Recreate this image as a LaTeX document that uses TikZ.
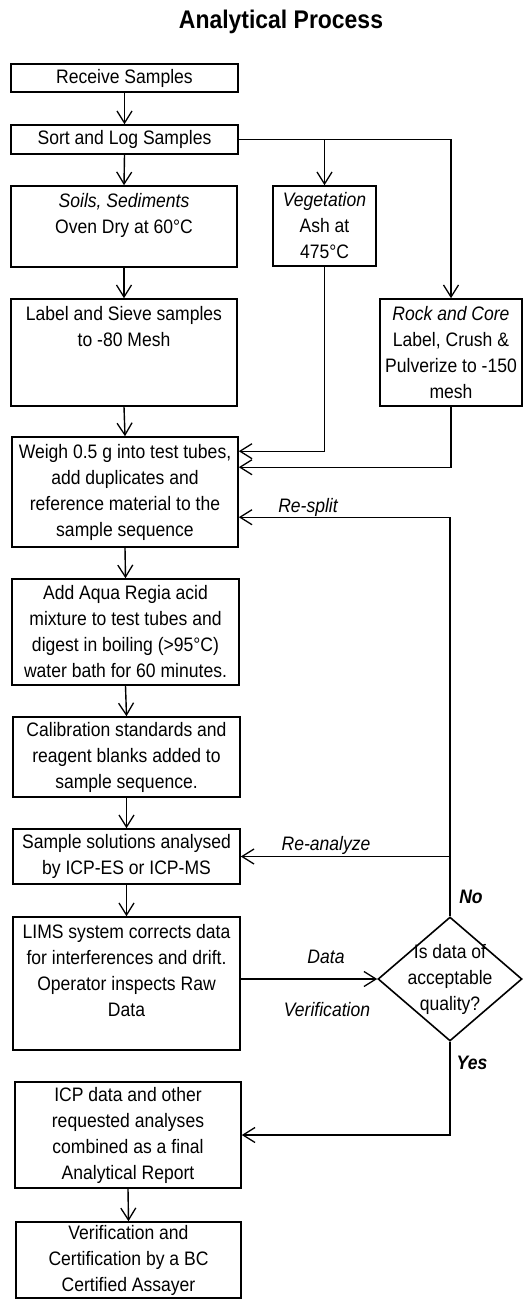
\documentclass[tikz,border=0pt]{standalone}
\usepackage{fontspec}
\setmainfont{Liberation Sans}[FakeStretch=0.9]
\usetikzlibrary{shapes.geometric,arrows.meta}
\begin{document}
\begin{tikzpicture}[x=1pt,y=-1pt,
box/.style={draw,line width=1.6pt,inner sep=0pt,align=center,font=\fontsize{19.5}{26}\selectfont},
arr/.style={line width=1.4pt,-{Straight Barb[length=12pt,width=15pt,line width=1.3pt]}},
lbl/.style={font=\fontsize{19.5}{26}\selectfont\itshape},
yn/.style={font=\fontsize{19.5}{26}\selectfont\bfseries\itshape}]
\useasboundingbox(0,0)rectangle(530,1299);
\node[font=\fontsize{25.5}{30}\selectfont\bfseries](title)at(281,22){Analytical Process};
\node[box,minimum width=227,minimum height=28](recv)at(124.5,78){Receive Samples};
\node[box,minimum width=227,minimum height=29](sort)at(124.5,139.5){Sort and Log Samples};
\node[box,minimum width=226,minimum height=81](soils)at(124,226.5){\textit{Soils, Sediments}\\Oven Dry at 60°C\\\mbox{}};
\node[box,minimum width=103,minimum height=80](veg)at(324.5,226){\textit{Vegetation}\\Ash at\\475°C};
\node[box,minimum width=226,minimum height=107](sieve)at(124,352.5){Label and Sieve samples\\to -80 Mesh\\\mbox{}\\\mbox{}};
\node[box,minimum width=142,minimum height=107](rock)at(451,352.5){\textit{Rock and Core}\\Label, Crush \&\\Pulverize to -150\\mesh};
\node[box,minimum width=226,minimum height=110](weigh)at(125,492){Weigh 0.5 g into test tubes,\\add duplicates and\\reference material to the\\sample sequence};
\node[box,minimum width=227,minimum height=106](aqua)at(125.5,632){Add Aqua Regia acid\\mixture to test tubes and\\digest in boiling (>95°C)\\water bath for 60 minutes.};
\node[box,minimum width=227,minimum height=80](calib)at(126.5,757){Calibration standards and\\reagent blanks added to\\sample sequence.};
\node[box,minimum width=227,minimum height=55](solut)at(126.5,856.5){Sample solutions analysed\\by ICP-ES or ICP-MS};
\node[box,minimum width=227,minimum height=133](lims)at(126.5,983.5){LIMS system corrects data\\for interferences and drift.\\Operator inspects Raw\\Data\\\mbox{}};
\node[box,diamond,minimum width=144,minimum height=124,inner sep=-10pt](dec)at(450,979){Is data of\\acceptable\\quality?};
\node[box,minimum width=226,minimum height=106](icp)at(128,1135){ICP data and other\\requested analyses\\combined as a final\\Analytical Report};
\node[box,minimum width=225,minimum height=76](cert)at(128.5,1260){Verification and\\Certification by a BC\\Certified Assayer};
\draw[arr](recv.south)--(sort.north);\draw[arr](sort.south)--(soils.north);
\draw[arr](sort.east)-|(rock.north);\draw[arr](veg.north|-sort.east)--(veg.north);
\draw[arr](soils.south)--(sieve.north);\draw[arr](sieve.south)--(weigh.north);
\draw[arr](veg.south)|-([yshift=-15pt]weigh.north east);
\draw[arr](rock.south)|-([yshift=-31pt]weigh.north east);
\draw[arr](weigh.south)--(aqua.north);\draw[arr](aqua.south)--(calib.north);
\draw[arr](calib.south)--(solut.north);\draw[arr](solut.south)--(lims.north);
\draw[arr](dec.north)|-([yshift=-81pt]weigh.north east);
\draw[arr](dec.north|-solut.east)--(solut.east);
\draw[arr](lims.east|-dec.west)--(dec.west);
\draw[arr](dec.south)|-(icp.east);\draw[arr](icp.south)--(cert.north);
\node[lbl](resplit)at(308,507){Re-split};
\node[lbl](reanalyze)at(326,845){Re-analyze};
\node[lbl](data)at(326,957){Data};
\node[lbl](verification)at(327,1010){Verification};
\node[yn](no)at(471,897){No};
\node[yn](yes)at(472,1063){Yes};
\end{tikzpicture}
\end{document}
